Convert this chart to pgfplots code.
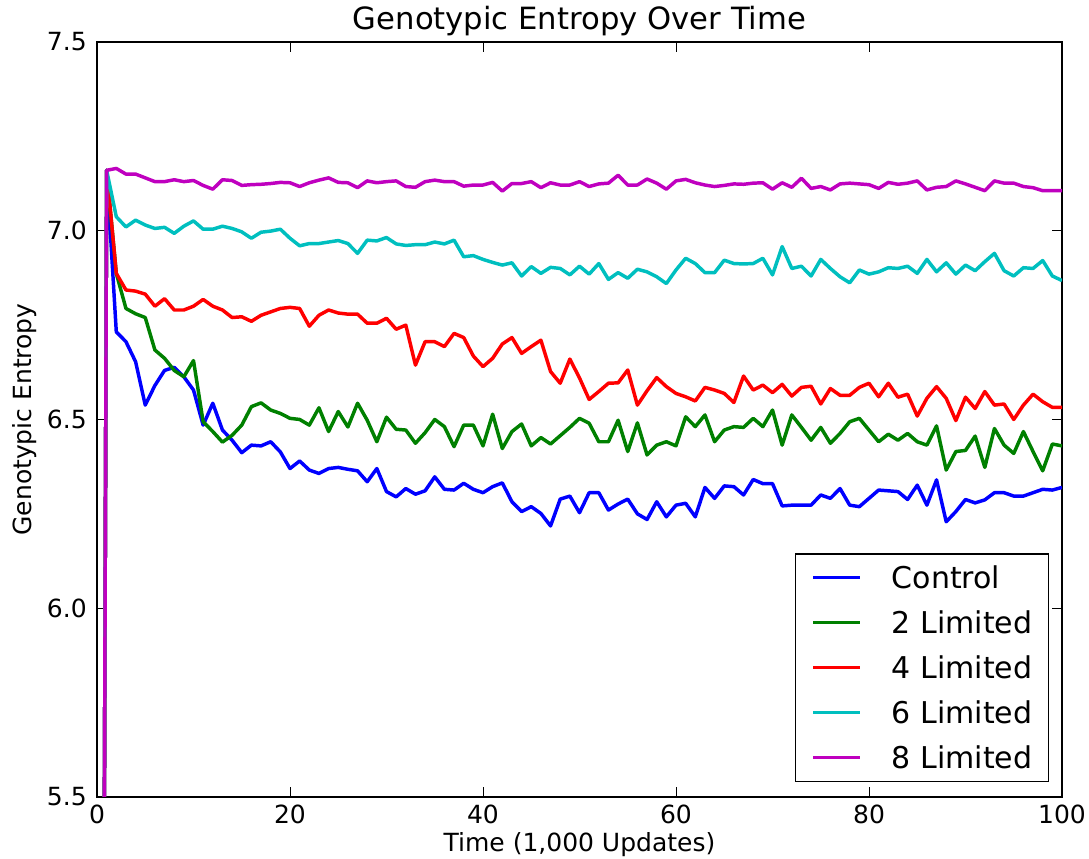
\documentclass[border=0pt]{standalone}
\usepackage{fontspec}
\setmainfont{DejaVu Sans}
\usepackage{pgfplots}
\pgfplotsset{compat=1.18}
\definecolor{mb}{rgb}{0,0,1}
\definecolor{mg}{rgb}{0,0.5,0}
\definecolor{mr}{rgb}{1,0,0}
\definecolor{mc}{rgb}{0,0.75,0.75}
\definecolor{mm}{rgb}{0.75,0,0.75}
\begin{document}
\begin{tikzpicture}
\begin{axis}[
  at={(0,0)}, anchor=south west,
  scale only axis, width=723.75pt, height=566.25pt,
  xmin=0, xmax=100, ymin=5.5, ymax=7.5,
  xtick={0,20,40,60,80,100},
  ytick={5.5,6.0,6.5,7.0,7.5},
  yticklabel style={/pgf/number format/fixed, /pgf/number format/fixed zerofill, /pgf/number format/precision=1},
  /pgf/number format/assume math mode=true,
  tick align=inside, tick pos=both,
  major tick length=7.5pt,
  tick style={line width=0.75pt, black},
  axis line style={line width=1.5pt},
  ticklabel style={font=\fontsize{18.75}{22}\selectfont},
  yticklabel style={inner sep=0pt, xshift=-7.5pt},
  xticklabel style={inner sep=0pt, yshift=-6pt},
  every axis title shift=0pt,
  title={Genotypic Entropy Over Time},
  title style={font=\fontsize{23}{27}\selectfont, at={(axis description cs:0.5,1)}, anchor=base, yshift=9.5pt, inner sep=0pt},
  xlabel={Time (1,000 Updates)},
  xlabel style={font=\fontsize{18.75}{22}\selectfont, at={(axis description cs:0.5,-0.0728)}, anchor=base, inner sep=0pt},
  ylabel={Genotypic Entropy},
  ylabel style={font=\fontsize{18.75}{22}\selectfont, at={(axis description cs:-0.0674,0.5)}, anchor=base, inner sep=0pt},
  legend style={font=\fontsize{22.5}{27}\selectfont, at={(axis description cs:0.9865,0.0199)}, anchor=south east,
    draw=black, line width=1pt, inner xsep=12pt, inner ysep=9.5pt, row sep=17.25pt, column sep=22.5pt,
    nodes={inner sep=0pt, text height=16.5pt, text depth=0pt}, cells={anchor=west}},
  legend image code/.code={\draw[#1, line width=2.5pt] (0pt,0pt) -- (35pt,0pt);},
  every axis plot/.append style={line width=2.6pt, line join=round},
]
\addplot[mb] coordinates {(0,0) (1,7.16) (2,6.732) (3,6.706) (4,6.653) (5,6.538) (6,6.59) (7,6.63) (8,6.638) (9,6.613) (10,6.578) (11,6.485) (12,6.543) (13,6.472) (14,6.445) (15,6.412) (16,6.432) (17,6.43) (18,6.441) (19,6.414) (20,6.37) (21,6.39) (22,6.366) (23,6.357) (24,6.37) (25,6.373) (26,6.368) (27,6.364) (28,6.335) (29,6.37) (30,6.309) (31,6.295) (32,6.317) (33,6.302) (34,6.311) (35,6.348) (36,6.315) (37,6.313) (38,6.331) (39,6.315) (40,6.306) (41,6.322) (42,6.332) (43,6.282) (44,6.256) (45,6.269) (46,6.251) (47,6.218) (48,6.289) (49,6.297) (50,6.253) (51,6.306) (52,6.306) (53,6.26) (54,6.276) (55,6.289) (56,6.25) (57,6.235) (58,6.282) (59,6.242) (60,6.273) (61,6.278) (62,6.242) (63,6.32) (64,6.291) (65,6.324) (66,6.322) (67,6.3) (68,6.341) (69,6.33) (70,6.33) (71,6.271) (72,6.273) (73,6.273) (74,6.273) (75,6.3) (76,6.291) (77,6.317) (78,6.273) (79,6.269) (80,6.291) (81,6.313) (82,6.311) (83,6.309) (84,6.288) (85,6.326) (86,6.273) (87,6.34) (88,6.229) (89,6.256) (90,6.288) (91,6.279) (92,6.287) (93,6.306) (94,6.306) (95,6.297) (96,6.297) (97,6.306) (98,6.315) (99,6.313) (100,6.32)};
\addlegendentry{Control}
\addplot[mg] coordinates {(0,0) (1,7.16) (2,6.887) (3,6.794) (4,6.78) (5,6.77) (6,6.684) (7,6.662) (8,6.63) (9,6.613) (10,6.656) (11,6.494) (12,6.468) (13,6.44) (14,6.458) (15,6.485) (16,6.534) (17,6.544) (18,6.525) (19,6.516) (20,6.503) (21,6.5) (22,6.485) (23,6.531) (24,6.468) (25,6.521) (26,6.48) (27,6.543) (28,6.498) (29,6.441) (30,6.506) (31,6.474) (32,6.472) (33,6.437) (34,6.465) (35,6.5) (36,6.481) (37,6.428) (38,6.485) (39,6.485) (40,6.43) (41,6.514) (42,6.423) (43,6.468) (44,6.488) (45,6.43) (46,6.452) (47,6.435) (48,6.457) (49,6.479) (50,6.503) (51,6.49) (52,6.441) (53,6.441) (54,6.498) (55,6.415) (56,6.491) (57,6.406) (58,6.432) (59,6.441) (60,6.43) (61,6.507) (62,6.481) (63,6.512) (64,6.441) (65,6.472) (66,6.481) (67,6.479) (68,6.503) (69,6.481) (70,6.525) (71,6.432) (72,6.512) (73,6.479) (74,6.445) (75,6.479) (76,6.437) (77,6.463) (78,6.494) (79,6.503) (80,6.472) (81,6.441) (82,6.461) (83,6.445) (84,6.463) (85,6.441) (86,6.432) (87,6.483) (88,6.366) (89,6.415) (90,6.418) (91,6.456) (92,6.373) (93,6.476) (94,6.432) (95,6.41) (96,6.468) (97,6.415) (98,6.364) (99,6.435) (100,6.43)};
\addlegendentry{2 Limited}
\addplot[mr] coordinates {(0,0) (1,7.16) (2,6.887) (3,6.843) (4,6.84) (5,6.832) (6,6.8) (7,6.82) (8,6.79) (9,6.79) (10,6.8) (11,6.818) (12,6.8) (13,6.79) (14,6.77) (15,6.772) (16,6.76) (17,6.776) (18,6.785) (19,6.794) (20,6.797) (21,6.794) (22,6.747) (23,6.776) (24,6.79) (25,6.782) (26,6.779) (27,6.779) (28,6.755) (29,6.755) (30,6.768) (31,6.739) (32,6.75) (33,6.644) (34,6.706) (35,6.706) (36,6.693) (37,6.728) (38,6.717) (39,6.668) (40,6.64) (41,6.662) (42,6.7) (43,6.717) (44,6.675) (45,6.693) (46,6.71) (47,6.627) (48,6.596) (49,6.66) (50,6.61) (51,6.553) (52,6.574) (53,6.596) (54,6.597) (55,6.631) (56,6.538) (57,6.576) (58,6.611) (59,6.587) (60,6.569) (61,6.56) (62,6.549) (63,6.585) (64,6.578) (65,6.569) (66,6.545) (67,6.615) (68,6.578) (69,6.591) (70,6.571) (71,6.593) (72,6.562) (73,6.585) (74,6.588) (75,6.541) (76,6.582) (77,6.564) (78,6.564) (79,6.585) (80,6.596) (81,6.56) (82,6.596) (83,6.559) (84,6.567) (85,6.509) (86,6.556) (87,6.587) (88,6.556) (89,6.497) (90,6.559) (91,6.529) (92,6.574) (93,6.538) (94,6.541) (95,6.5) (96,6.538) (97,6.567) (98,6.547) (99,6.532) (100,6.532)};
\addlegendentry{4 Limited}
\addplot[mc] coordinates {(0,0) (1,7.16) (2,7.037) (3,7.01) (4,7.028) (5,7.015) (6,7.006) (7,7.009) (8,6.993) (9,7.012) (10,7.026) (11,7.004) (12,7.004) (13,7.012) (14,7.006) (15,6.997) (16,6.98) (17,6.996) (18,6.999) (19,7.004) (20,6.98) (21,6.96) (22,6.966) (23,6.966) (24,6.97) (25,6.974) (26,6.966) (27,6.94) (28,6.975) (29,6.973) (30,6.982) (31,6.965) (32,6.961) (33,6.963) (34,6.963) (35,6.97) (36,6.965) (37,6.975) (38,6.931) (39,6.934) (40,6.924) (41,6.916) (42,6.909) (43,6.915) (44,6.88) (45,6.905) (46,6.887) (47,6.903) (48,6.9) (49,6.883) (50,6.906) (51,6.885) (52,6.913) (53,6.871) (54,6.889) (55,6.874) (56,6.898) (57,6.891) (58,6.878) (59,6.86) (60,6.896) (61,6.927) (62,6.913) (63,6.889) (64,6.889) (65,6.922) (66,6.913) (67,6.912) (68,6.913) (69,6.927) (70,6.883) (71,6.958) (72,6.9) (73,6.906) (74,6.88) (75,6.924) (76,6.9) (77,6.878) (78,6.862) (79,6.896) (80,6.885) (81,6.891) (82,6.902) (83,6.9) (84,6.906) (85,6.887) (86,6.924) (87,6.891) (88,6.915) (89,6.885) (90,6.909) (91,6.894) (92,6.918) (93,6.94) (94,6.894) (95,6.88) (96,6.902) (97,6.9) (98,6.921) (99,6.88) (100,6.868)};
\addlegendentry{6 Limited}
\addplot[mm] coordinates {(0,0) (1,7.16) (2,7.165) (3,7.15) (4,7.15) (5,7.14) (6,7.13) (7,7.13) (8,7.135) (9,7.13) (10,7.133) (11,7.12) (12,7.11) (13,7.135) (14,7.133) (15,7.12) (16,7.122) (17,7.123) (18,7.125) (19,7.128) (20,7.127) (21,7.117) (22,7.127) (23,7.134) (24,7.14) (25,7.128) (26,7.127) (27,7.114) (28,7.132) (29,7.127) (30,7.13) (31,7.132) (32,7.117) (33,7.115) (34,7.13) (35,7.134) (36,7.13) (37,7.13) (38,7.118) (39,7.121) (40,7.121) (41,7.128) (42,7.105) (43,7.125) (44,7.125) (45,7.13) (46,7.114) (47,7.127) (48,7.121) (49,7.121) (50,7.13) (51,7.117) (52,7.124) (53,7.126) (54,7.147) (55,7.121) (56,7.121) (57,7.137) (58,7.126) (59,7.11) (60,7.132) (61,7.136) (62,7.127) (63,7.121) (64,7.117) (65,7.12) (66,7.124) (67,7.123) (68,7.126) (69,7.127) (70,7.11) (71,7.127) (72,7.115) (73,7.139) (74,7.112) (75,7.117) (76,7.108) (77,7.124) (78,7.126) (79,7.124) (80,7.122) (81,7.112) (82,7.128) (83,7.123) (84,7.126) (85,7.132) (86,7.108) (87,7.115) (88,7.117) (89,7.132) (90,7.124) (91,7.115) (92,7.106) (93,7.132) (94,7.126) (95,7.126) (96,7.117) (97,7.114) (98,7.106) (99,7.106) (100,7.106)};
\addlegendentry{8 Limited}
\end{axis}
\pgfresetboundingbox
\path[use as bounding box] (-72.75pt,-46.5pt) rectangle (744pt,597.75pt);
\end{tikzpicture}
\end{document}
